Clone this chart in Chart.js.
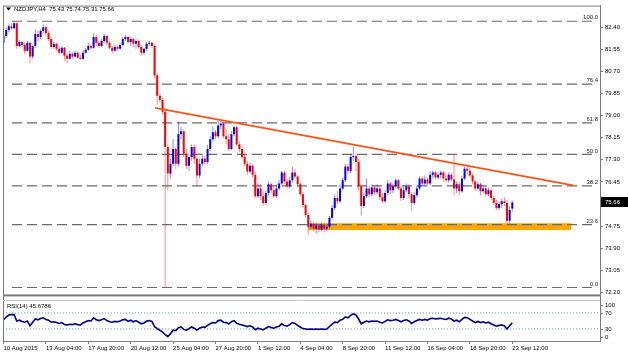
<!DOCTYPE html>
<html><head><meta charset="utf-8">
<script src="https://cdn.jsdelivr.net/npm/chart.js@4.4.1/dist/chart.umd.min.js"></script>
<style>
html,body{margin:0;padding:0;background:#fff;width:628px;height:356px;overflow:hidden}
canvas{position:absolute;left:0}
#main{top:0}
#rsi{top:300px}
</style></head><body>
<canvas id="main" width="628" height="300"></canvas>
<canvas id="rsi" width="628" height="56"></canvas>
<script>
// ---------------- DATA ----------------
const symbolTitle = 'NZDJPY,H4';
const xTickBars = [0,16,32,48,64,80,96,112,128,144,160,176,192];
const xTickLabels = ['10 Aug 2015','13 Aug 04:00','17 Aug 20:00','20 Aug 12:00','25 Aug 04:00','27 Aug 20:00','1 Sep 12:00','4 Sep 04:00','8 Sep 20:00','11 Sep 12:00','16 Sep 04:00','18 Sep 20:00','23 Sep 12:00'];
const priceTicks = [72.20,73.05,73.90,74.75,76.45,77.30,78.15,79.00,79.85,80.70,81.55,82.40];

const openP = [81.80,82.06,82.29,82.44,82.36,82.55,81.68,81.83,81.72,81.49,81.80,81.27,81.68,82.14,82.02,82.25,82.40,82.17,81.95,81.64,
81.76,81.57,81.42,81.61,81.30,81.19,81.38,81.27,81.42,81.23,81.19,81.42,81.53,81.68,81.61,82.02,81.80,81.68,81.87,82.06,
81.80,81.61,81.49,81.64,81.57,81.72,81.95,82.02,81.83,81.95,81.76,81.87,81.64,81.42,81.57,81.76,81.80,81.68,80.55,79.76,
79.60,79.15,77.79,76.77,77.15,77.72,77.15,78.28,78.40,77.53,77.07,77.41,77.79,77.34,76.70,77.15,77.34,77.22,77.72,78.09,
78.36,78.21,78.62,78.70,78.21,78.09,77.72,78.28,78.55,77.90,77.72,77.41,77.15,76.85,77.07,76.73,75.90,76.20,75.90,75.64,
76.02,76.36,76.13,75.90,76.20,76.39,76.81,76.47,76.28,76.51,76.81,76.66,76.36,75.98,75.56,75.18,74.73,74.84,74.65,74.77,
74.62,74.81,74.65,74.73,75.07,75.45,75.83,75.71,76.20,76.51,77.04,76.88,77.41,77.45,77.22,76.28,75.52,75.90,76.20,75.98,
76.24,76.05,76.20,75.86,75.71,76.02,76.39,76.13,76.28,76.51,76.20,75.83,76.13,76.28,75.98,75.64,75.94,76.20,76.58,76.39,
76.54,76.39,76.73,76.81,76.62,76.73,76.81,76.58,76.51,76.73,76.54,76.20,76.36,76.09,76.58,76.96,76.88,76.70,76.47,76.20,
76.36,76.09,76.20,75.98,76.13,75.83,75.64,75.45,75.60,75.71,75.64,74.96,75.43];
const highP = [82.25,82.36,82.51,82.55,82.63,82.59,81.91,81.87,81.80,81.87,81.83,81.72,82.32,82.25,82.32,82.51,82.48,82.25,82.02,81.83,
81.80,81.68,81.68,81.64,81.42,81.49,81.46,81.49,81.49,81.34,81.53,81.61,81.80,81.76,82.17,82.10,81.87,81.95,82.14,82.10,
81.87,81.68,81.72,81.72,81.80,82.02,82.10,82.06,82.02,81.98,81.95,81.91,81.72,81.61,81.83,81.87,81.83,81.72,80.62,79.87,
79.68,79.23,77.90,77.34,78.09,77.79,78.77,78.55,78.47,77.72,77.53,77.90,77.90,77.41,77.34,77.53,77.45,77.87,78.21,78.58,
78.47,78.85,78.85,78.77,78.47,78.28,78.40,78.62,78.62,78.02,77.83,77.53,77.26,77.19,77.15,76.85,76.39,76.36,76.09,76.13,
76.47,76.43,76.28,76.36,76.51,76.88,76.88,76.58,76.66,77.04,76.96,76.73,76.43,76.05,75.64,75.26,74.96,74.92,74.88,74.84,
74.88,74.88,74.84,75.15,75.56,75.98,76.09,76.36,76.62,77.15,77.15,77.53,77.79,77.53,77.34,76.36,76.02,76.58,76.28,76.36,
76.32,76.36,76.28,76.02,76.13,76.51,76.47,76.39,76.58,76.58,76.28,76.28,76.39,76.36,76.05,76.05,76.32,76.66,76.66,76.70,
76.62,76.85,76.88,76.88,76.81,76.88,76.88,76.77,76.81,76.81,77.53,76.47,76.47,76.70,77.04,77.04,77.00,76.77,76.54,76.47,
76.43,76.32,76.28,76.24,76.20,75.90,75.75,75.71,75.79,75.86,75.75,75.52,75.74];
const lowP = [81.72,81.98,82.21,82.29,82.32,81.57,81.64,81.64,81.38,81.46,81.00,81.19,81.61,81.87,81.95,82.17,82.06,81.87,81.57,81.57,
81.49,81.34,81.38,81.12,81.04,81.15,81.19,81.23,81.19,81.15,81.15,81.38,81.49,81.53,81.57,81.68,81.61,81.64,81.80,81.72,
81.53,81.38,81.46,81.49,81.53,81.68,81.87,81.76,81.68,81.64,81.57,81.57,81.30,81.34,81.49,81.68,81.61,80.43,79.42,79.49,
79.04,72.39,76.13,76.58,77.04,76.96,77.04,78.09,77.41,76.96,76.88,77.26,77.15,76.28,76.58,77.04,77.11,77.15,77.64,78.02,
78.09,78.13,78.47,78.13,77.90,77.64,77.68,78.21,77.83,77.60,77.34,77.04,76.73,76.77,76.62,75.83,75.83,75.75,75.52,75.56,
75.94,76.02,75.83,75.83,76.13,76.32,76.36,76.20,76.20,76.43,76.58,76.28,75.90,75.45,75.07,74.43,74.62,74.54,74.47,74.50,
74.54,74.50,74.54,74.65,75.00,75.37,75.60,75.64,76.13,76.43,76.77,76.77,77.26,76.85,76.13,75.15,75.45,75.83,75.86,75.90,
75.94,75.98,75.75,75.64,75.64,75.94,75.98,76.02,76.20,76.13,75.71,75.75,76.05,75.83,75.33,75.56,75.86,76.13,76.32,76.32,
76.32,76.32,76.58,76.54,76.54,76.58,76.47,76.43,76.43,76.47,75.94,76.02,75.94,76.02,76.51,76.73,76.62,76.36,76.09,76.13,
75.94,76.02,75.90,75.90,75.75,75.56,75.37,75.37,75.45,75.52,74.81,74.84,75.31];
const closeP = [82.06,82.29,82.44,82.36,82.55,81.68,81.83,81.72,81.49,81.80,81.27,81.68,82.14,82.02,82.25,82.40,82.17,81.95,81.64,81.76,
81.57,81.42,81.61,81.30,81.19,81.38,81.27,81.42,81.23,81.19,81.42,81.53,81.68,81.61,82.02,81.80,81.68,81.87,82.06,81.80,
81.61,81.49,81.64,81.57,81.72,81.95,82.02,81.83,81.95,81.76,81.87,81.64,81.42,81.57,81.76,81.80,81.68,80.55,79.76,79.60,
79.15,77.79,76.77,77.15,77.72,77.15,78.28,78.40,77.53,77.07,77.41,77.79,77.34,76.70,77.15,77.34,77.22,77.72,78.09,78.36,
78.21,78.62,78.70,78.21,78.09,77.72,78.28,78.55,77.90,77.72,77.41,77.15,76.85,77.07,76.73,75.90,76.20,75.90,75.64,76.02,
76.36,76.13,75.90,76.20,76.39,76.81,76.47,76.28,76.51,76.81,76.66,76.36,75.98,75.56,75.18,74.73,74.84,74.65,74.77,74.62,
74.81,74.65,74.73,75.07,75.45,75.83,75.71,76.20,76.51,77.04,76.88,77.41,77.45,77.22,76.28,75.52,75.90,76.20,75.98,76.24,
76.05,76.20,75.86,75.71,76.02,76.39,76.13,76.28,76.51,76.20,75.83,76.13,76.28,75.98,75.64,75.94,76.20,76.58,76.39,76.54,
76.39,76.73,76.81,76.62,76.73,76.81,76.58,76.51,76.73,76.54,76.20,76.36,76.09,76.58,76.96,76.88,76.70,76.47,76.20,76.36,
76.09,76.20,75.98,76.13,75.83,75.64,75.45,75.60,75.71,75.64,74.96,75.37,75.66];

const rsiValues = [53,60,65,66,66,50,52,49,47,50,38,47,55,53,56,58,54,52,47,48,
46,44,46,41,40,42,41,43,41,40,45,48,51,50,58,53,51,53,56,51,
48,47,49,48,50,53,54,49,52,48,51,47,43,45,50,51,49,36,31,27,
22,16,11,18,27,26,33,35,29,27,31,35,32,27,32,35,34,39,43,46,
45,51,52,47,46,43,48,51,44,42,40,38,36,38,35,28,32,30,28,32,
36,34,32,35,37,43,39,37,41,46,44,39,35,31,30,29,30,29,30,29,
30,29,30,36,42,47,46,52,54,60,58,64,68,65,55,43,47,50,48,50,
49,50,47,45,49,53,51,52,54,51,48,51,53,50,44,48,51,54,52,54,
52,56,57,55,56,57,55,54,57,55,50,52,48,54,59,58,54,50,46,49,
46,48,45,47,43,40,37,39,40,38,30,38,45.6786];
const rsiPeriod = 14;
const rsiLevels = [30,70];
const rsiTicks = [0,30,70,100];

const fibLabels = ['0.0','23.6','38.2','50.0','61.8','76.4','100.0'];
const fibPrices = [72.39,74.81,76.30,77.51,78.72,80.21,82.63];
const trendBars = [57.2,214.9];
const trendPrices = [79.30,76.32];
const zoneBars = [114.9,214.2];
const zonePrices = [74.60,74.86];

// ---------------- LAYOUT / STYLE ----------------
const FONT = '"Liberation Sans", Arial, sans-serif';
const X_MIN = -0.19, X_MAX = 225.1;
const Y_MIN = 72.124, Y_MAX = 83.231;
const FIB_FROM = 3.2, FIB_TO = 224.0;
const AXIS_COL = '#808080';
const UP = '#0000ff', DN = '#ff0000';
const UPW = 'rgba(40,40,255,0.55)', DNW = 'rgba(255,40,40,0.55)';

const bars = closeP.map((_, i) => i);
const isUp = i => closeP[i] >= openP[i];
const last = closeP.length - 1;

const mainPlugin = {
  id: 'mainDeco',
  beforeDatasetsDraw(chart) {
    const {ctx, scales: {x, y}} = chart;
    ctx.save();
    ctx.fillStyle = '#ffa500';
    const x1 = x.getPixelForValue(zoneBars[0]), x2 = x.getPixelForValue(zoneBars[1]);
    const y1 = y.getPixelForValue(zonePrices[1]), y2 = y.getPixelForValue(zonePrices[0]);
    ctx.fillRect(x1, y1, x2 - x1, y2 - y1);
    ctx.restore();
  },
  afterDraw(chart) {
    const {ctx, chartArea: a, scales: {x, y}} = chart;
    ctx.save();
    // frame
    ctx.strokeStyle = '#7a7a7a'; ctx.lineWidth = 1;
    ctx.beginPath();
    ctx.moveTo(a.left + 0.5, a.top + 0.5); ctx.lineTo(a.right + 0.5, a.top + 0.5);
    ctx.moveTo(a.left + 0.5, a.top); ctx.lineTo(a.left + 0.5, 300);
    ctx.moveTo(a.right + 0.5, a.top); ctx.lineTo(a.right + 0.5, 300);
    ctx.stroke();
    // separator
    ctx.fillStyle = '#7a7a7a';
    ctx.fillRect(a.left, a.bottom, a.right - a.left + 1, 2);
    // fib labels
    ctx.font = '6px ' + FONT;
    ctx.fillStyle = '#222';
    ctx.textAlign = 'right'; ctx.textBaseline = 'bottom';
    fibPrices.forEach((p, k) => {
      ctx.fillText(fibLabels[k], x.getPixelForValue(FIB_TO) + 1, y.getPixelForValue(p) - 0.5);
    });
    // header
    ctx.fillStyle = '#000';
    ctx.beginPath(); ctx.moveTo(6, 7.5); ctx.lineTo(11, 7.5); ctx.lineTo(8.5, 10.5); ctx.closePath(); ctx.fill();
    ctx.textAlign = 'left'; ctx.textBaseline = 'middle';
    ctx.fillText(symbolTitle + '  ' + [openP[last], highP[last], lowP[last], closeP[last]].map(v => v.toFixed(2)).join(' '), 14, 9.5);
    // current price box
    const yy = y.getPixelForValue(closeP[last]);
    ctx.fillStyle = '#000';
    ctx.fillRect(a.right + 1, Math.round(yy) - 5, 28, 10);
    ctx.fillStyle = '#fff';
    ctx.fillText(closeP[last].toFixed(2), a.right + 5, Math.round(yy) + 0.5);
    ctx.restore();
  }
};

const rsiPlugin = {
  id: 'rsiDeco',
  afterDraw(chart) {
    const {ctx, chartArea: a, scales: {y}} = chart;
    ctx.save();
    ctx.strokeStyle = '#7a7a7a'; ctx.lineWidth = 1;
    ctx.beginPath();
    ctx.moveTo(a.left + 0.5, 0); ctx.lineTo(a.left + 0.5, a.bottom);
    ctx.moveTo(a.right + 0.5, 0); ctx.lineTo(a.right + 0.5, a.bottom);
    ctx.stroke();
    ctx.strokeStyle = '#c8c8c8';
    ctx.beginPath(); ctx.moveTo(a.left, 0.5); ctx.lineTo(a.right, 0.5); ctx.stroke();
    ctx.font = '6px ' + FONT;
    ctx.fillStyle = '#000';
    ctx.textAlign = 'left'; ctx.textBaseline = 'middle';
    ctx.fillText('RSI(' + rsiPeriod + ') ' + rsiValues[last].toFixed(4), 7, 6.5);
    ctx.strokeStyle = AXIS_COL;
    rsiTicks.forEach(v => {
      const py = Math.min(Math.max(y.getPixelForValue(v), a.top + 4), a.bottom - 4);
      ctx.beginPath(); ctx.moveTo(a.right, Math.round(py) + 0.5); ctx.lineTo(a.right + 3, Math.round(py) + 0.5); ctx.stroke();
      ctx.fillText(String(v), a.right + 5, py);
    });
    ctx.restore();
  }
};

new Chart(document.getElementById('main'), {
  type: 'bar',
  data: { datasets: [
    { type: 'line', data: trendBars.map((b, k) => ({x: b, y: trendPrices[k]})), borderColor: '#ff5219', borderWidth: 1.8, pointRadius: 0, order: 0 },
    { data: bars.map(i => ({x: i, y: [openP[i], closeP[i]]})), backgroundColor: bars.map(i => isUp(i) ? UP : DN),
      barThickness: 2, minBarLength: 1, grouped: false, inflateAmount: 0, borderWidth: 0, order: 2 },
    { data: bars.map(i => ({x: i, y: [lowP[i], highP[i]]})), backgroundColor: bars.map(i => isUp(i) ? UPW : DNW),
      barThickness: 1, grouped: false, inflateAmount: 0, borderWidth: 0, order: 3 },
    ...fibPrices.map(p => ({ type: 'line', data: [{x: FIB_FROM, y: p}, {x: FIB_TO, y: p}], borderColor: '#6a6a6a',
      borderWidth: 1.2, borderDash: [10, 5], pointRadius: 0, order: 5 }))
  ]},
  options: {
    responsive: false, animation: false, devicePixelRatio: 1,
    layout: { padding: { left: 3, top: 4, right: 0, bottom: 2 } },
    plugins: { legend: { display: false }, tooltip: { enabled: false } },
    scales: {
      x: { type: 'linear', min: X_MIN, max: X_MAX, offset: false, display: false },
      y: { type: 'linear', position: 'right', min: Y_MIN, max: Y_MAX,
        afterBuildTicks: s => { s.ticks = priceTicks.map(v => ({value: v})); },
        afterFit: s => { s.width = 28; },
        ticks: { callback: v => Number(v).toFixed(2), font: { family: FONT, size: 6 }, color: '#000', padding: 2, autoSkip: false },
        grid: { drawOnChartArea: false, drawTicks: true, tickLength: 3, color: AXIS_COL },
        border: { display: true, color: AXIS_COL } }
    }
  },
  plugins: [mainPlugin]
});

new Chart(document.getElementById('rsi'), {
  type: 'line',
  data: { datasets: [
    { data: bars.map(i => ({x: i, y: rsiValues[i]})), borderColor: '#000080', borderWidth: 1.6, pointRadius: 0, order: 0 },
    ...rsiLevels.map(l => ({ data: [{x: X_MIN, y: l}, {x: X_MAX, y: l}], borderColor: '#4da6a6', borderWidth: 1, borderDash: [1, 2], pointRadius: 0, order: 1 }))
  ]},
  options: {
    responsive: false, animation: false, devicePixelRatio: 1,
    layout: { padding: { left: 3, top: 1, right: 0, bottom: 0 } },
    plugins: { legend: { display: false }, tooltip: { enabled: false } },
    scales: {
      x: { type: 'linear', min: X_MIN, max: X_MAX, offset: false,
        afterBuildTicks: s => { s.ticks = xTickBars.map(v => ({value: v})); },
        afterFit: s => { s.height = 15; },
        ticks: { callback: v => xTickLabels[xTickBars.indexOf(v)], align: 'start', maxRotation: 0, autoSkip: false,
          padding: 1, font: { family: FONT, size: 6 }, color: '#000' },
        grid: { drawOnChartArea: false, tickLength: 3, color: AXIS_COL },
        border: { display: true, color: AXIS_COL } },
      y: { type: 'linear', position: 'right', min: 0, max: 100,
        afterFit: s => { s.width = 28; },
        ticks: { display: false }, grid: { display: false }, border: { display: false } }
    }
  },
  plugins: [rsiPlugin]
});
</script>
</body></html>
